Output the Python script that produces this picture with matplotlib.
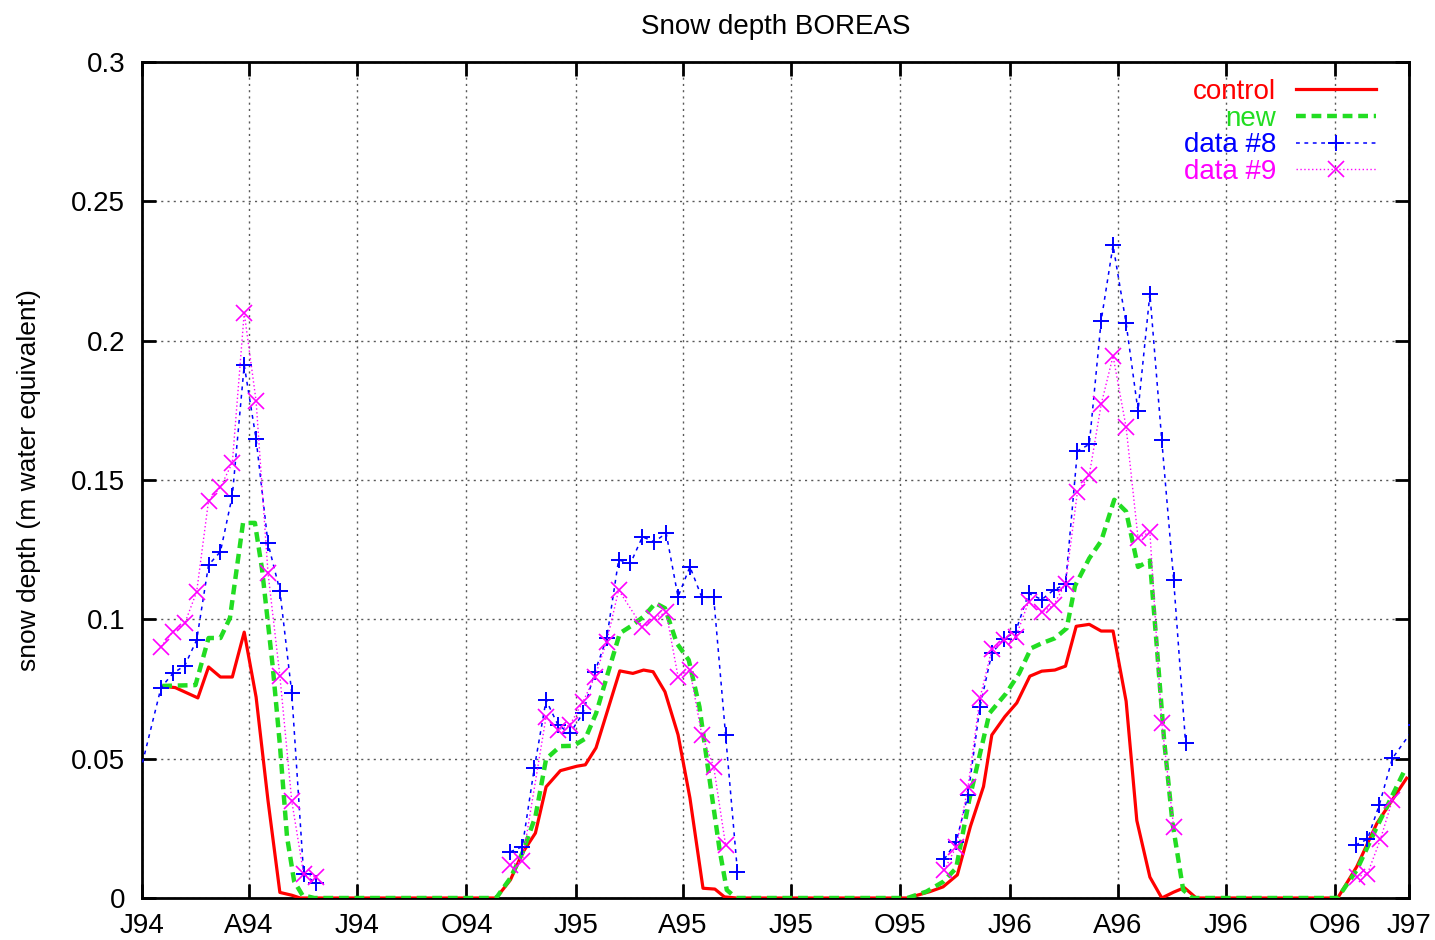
#!/usr/bin/env python3

import numpy as np
import matplotlib.pyplot as plt

# days since 1 Jan 1994, snow water equivalent in m
control_day = [17, 28, 47, 56, 66, 76, 86, 96, 106, 116, 126, 133,
               298, 310, 320, 331, 340, 352, 366, 373, 382, 402, 413, 422, 430, 440,
               451, 461, 472, 482, 490, 500,
               644, 663, 674, 686, 697, 708, 715, 726, 736, 747, 757, 768, 777, 786,
               797, 807, 817, 828, 837, 848, 858, 868, 877, 887,
               1006, 1022, 1039, 1064]
control_swe = [0.076, 0.0755, 0.0718, 0.0829, 0.0793, 0.0793, 0.0954, 0.0721, 0.035, 0.002, 0.001, 0.0,
               0.0, 0.0065, 0.0161, 0.0233, 0.0399, 0.0457, 0.0473, 0.0478, 0.0539, 0.0815, 0.0806, 0.0818,
               0.0812, 0.0740, 0.0586, 0.0359, 0.0035, 0.0032, 0.0004, 0.0,
               0.0, 0.0023, 0.004, 0.0083, 0.0257, 0.040, 0.0585, 0.0651, 0.070, 0.0796, 0.0814, 0.0818,
               0.0832, 0.0975, 0.0982, 0.0958, 0.0958, 0.0706, 0.0278, 0.0075, 0.0, 0.0021, 0.0037, 0.0,
               0.0, 0.0112, 0.0268, 0.043]

new_day = [17, 45, 56, 66, 74, 85, 95, 101, 110, 116, 122, 128, 135, 145,
           298, 310, 320, 331, 340, 352, 363, 373, 382, 392, 402, 413, 422, 432, 440, 450,
           460, 469, 478, 486, 492, 500,
           644, 660, 674, 685, 696, 713, 727, 738, 748, 757, 768, 778, 785, 797, 807, 818,
           828, 838, 848, 854, 860, 867, 876, 884,
           1006, 1022, 1039, 1063]
new_swe = [0.0761, 0.0764, 0.0933, 0.0933, 0.1005, 0.1346, 0.1346, 0.118, 0.083, 0.055, 0.022, 0.006, 0.001, 0.0,
           0.0, 0.0072, 0.0161, 0.0292, 0.0499, 0.0545, 0.0546, 0.0572, 0.0662, 0.0807, 0.0950, 0.0980,
           0.1010, 0.1058, 0.1040, 0.0914, 0.0854, 0.0686, 0.0411, 0.0172, 0.0029, 0.0,
           0.0, 0.0023, 0.0058, 0.0107, 0.0352, 0.0663, 0.0734, 0.0806, 0.0896, 0.0914, 0.0932, 0.0968,
           0.112, 0.1219, 0.1281, 0.1429, 0.1387, 0.1188, 0.1211, 0.0892, 0.0565, 0.0270, 0.0029, 0.0,
           0.0, 0.0100, 0.0255, 0.0464]

d8_day = [-8, 16, 26, 36, 46, 56, 66, 76, 86, 96, 106, 116, 126, 136, 146,
          310, 320, 330, 340, 350, 360, 371, 381, 391, 401, 411, 421, 431, 441, 451, 461,
          471, 481, 491, 501,
          675, 685, 695, 705, 715, 725, 735, 746, 757, 767, 777, 787, 797, 807, 817, 828,
          838, 848, 858, 868, 878,
          1021, 1031, 1041, 1052, 1072]
d8_swe = [0.034, 0.0755, 0.0806, 0.0834, 0.0926, 0.1195, 0.1243, 0.1444, 0.1912, 0.1647, 0.1273,
          0.1103, 0.0736, 0.0086, 0.0054,
          0.0166, 0.0184, 0.0465, 0.0710, 0.0621, 0.0591, 0.0663, 0.0812, 0.0932, 0.1213, 0.1201,
          0.1296, 0.1278, 0.1309, 0.1081, 0.1189, 0.1079, 0.1079, 0.0585, 0.0094,
          0.0139, 0.0202, 0.0370, 0.0686, 0.0878, 0.0929, 0.0956, 0.1093, 0.1071, 0.1105, 0.1126,
          0.1604, 0.1628, 0.2072, 0.2342, 0.2062, 0.1748, 0.2168, 0.1642, 0.1141, 0.0558,
          0.0190, 0.0211, 0.0334, 0.0501, 0.062]

d9_day = [16, 26, 36, 46, 56, 66, 76, 86, 96, 106, 116, 126, 136, 146,
          310, 320, 340, 350, 360, 371, 381, 391, 401, 421, 431, 441, 451, 461, 471, 481, 491,
          675, 685, 695, 705, 715, 725, 735, 746, 757, 767, 777, 787, 797, 807, 817, 828,
          838, 848, 858, 868,
          1022, 1031, 1042, 1052]
d9_swe = [0.0902, 0.0956, 0.0986, 0.1099, 0.1426, 0.1474, 0.1562, 0.2100, 0.1783, 0.1167, 0.0797,
          0.0348, 0.0086, 0.0075,
          0.0118, 0.0133, 0.0651, 0.0603, 0.0621, 0.0704, 0.0794, 0.0920, 0.1105, 0.0973, 0.1004,
          0.1025, 0.0794, 0.0818, 0.0585, 0.0471, 0.0190,
          0.0100, 0.0184, 0.0399, 0.0717, 0.0892, 0.0926, 0.0935, 0.1063, 0.1025, 0.1051, 0.1128,
          0.1456, 0.1518, 0.1771, 0.1945, 0.1689, 0.1292, 0.1313, 0.0628, 0.0254,
          0.0076, 0.0086, 0.0211, 0.0352]

tick_days = [0, 90, 181, 273, 365, 455, 546, 638, 730, 821, 912, 1004, 1066]
tick_labels = ['J94', 'A94', 'J94', 'O94', 'J95', 'A95', 'J95', 'O95',
               'J96', 'A96', 'J96', 'O96', 'J97']
ytick_vals = [0, 0.05, 0.1, 0.15, 0.2, 0.25, 0.3]
ytick_labels = ['0', '0.05', '0.1', '0.15', '0.2', '0.25', '0.3']


def with_breaks(days, values, gap=60):
    # separate the winters so observations are not joined over summer
    x, y = [], []
    for i, (d, v) in enumerate(zip(days, values)):
        if i and d - days[i - 1] > gap:
            x.append(np.nan)
            y.append(np.nan)
        x.append(d)
        y.append(v)
    return x, y


if __name__ == "__main__":

    plt.rcParams['font.family'] = ['Liberation Sans', 'DejaVu Sans']

    fig = plt.figure(figsize=(14.35, 9.4), dpi=100, facecolor='w')
    ax = fig.add_axes([142 / 1435, 1 - 898 / 940, 1267 / 1435, 836 / 940])

    ax.plot(control_day, control_swe, color='#ff0000', lw=2.3, label='control', zorder=3)
    ax.plot(new_day, new_swe, color='#22dd22', lw=3.2, ls=(0, (2.2, 1.3)), label='new', zorder=4)
    x8, y8 = with_breaks(d8_day, d8_swe)
    ax.plot(x8, y8, color='#0000ff', lw=1.1, ls=(0, (2.5, 3)), marker='+', ms=11, mew=1.4,
            label='data #8', zorder=5)
    x9, y9 = with_breaks(d9_day, d9_swe)
    ax.plot(x9, y9, color='#ff00ff', lw=1.0, ls=(0, (1, 1.8)), marker='x', ms=11, mew=1.2,
            label='data #9', zorder=6)

    ax.set_xlim(0, 1066)
    ax.set_ylim(0, 0.3)
    ax.set_xticks(tick_days)
    ax.set_xticklabels(tick_labels)
    ax.set_yticks(ytick_vals)
    ax.set_yticklabels(ytick_labels)
    ax.tick_params(direction='in', length=10, width=2, top=True, right=True, labelsize=20)
    ax.tick_params(axis='x', pad=11)
    ax.tick_params(axis='y', pad=12)
    for spine in ax.spines.values():
        spine.set_linewidth(2)
    ax.grid(True, color='0.35', ls=(0, (1.5, 3)), lw=1)

    ax.set_title('Snow depth BOREAS', fontsize=20, pad=20)
    ax.set_ylabel('snow depth (m water equivalent)', fontsize=19)
    ax.yaxis.set_label_coords(-0.08, 0.5)

    ax.legend(loc='upper right', bbox_to_anchor=(0.974, 0.98), frameon=False,
              markerfirst=False, labelcolor='linecolor', fontsize=20, handlelength=2.9,
              handletextpad=0.7, labelspacing=0.03, numpoints=1, borderpad=0,
              borderaxespad=0)

    fig.savefig('out.png', dpi=100)
